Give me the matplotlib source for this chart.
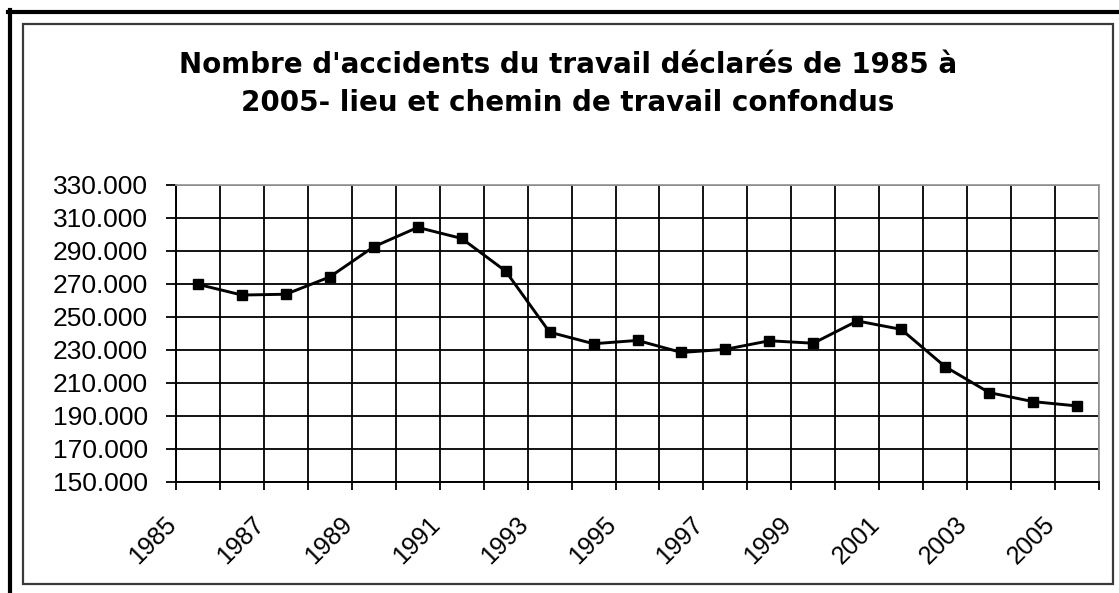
import matplotlib.pyplot as plt
from matplotlib.lines import Line2D
from matplotlib.patches import Rectangle
from matplotlib.ticker import FixedLocator, FuncFormatter
import matplotlib.transforms as mtransforms

# Données
annees = list(range(1985, 2006))
accidents = [269500, 263000, 263500, 274000, 292300, 304000, 297300, 277500,
             240500, 233500, 235500, 228200, 230100, 235300, 233800, 247300,
             242200, 219600, 203900, 198400, 195800]
etiquettes_x = [str(a) for a in annees[::2]]
graduations_y = list(range(150000, 330001, 20000))

titre = "Nombre d'accidents du travail déclarés de 1985 à\n2005- lieu et chemin de travail confondus"

W, H = 1119, 593
fig = plt.figure(figsize=(W / 100, H / 100), dpi=100)
fig.patch.set_facecolor('white')

# Cadres extérieurs
fig.add_artist(Line2D([8 / W, 1], [1 - 12 / H, 1 - 12 / H], color='black', lw=3,
                      transform=fig.transFigure))
fig.add_artist(Line2D([10 / W, 10 / W], [0, 1 - 10 / H], color='black', lw=3,
                      transform=fig.transFigure))
fig.add_artist(Rectangle((23 / W, 1 - 584 / H), (1113 - 23) / W, (584 - 24) / H,
                         fill=False, edgecolor='#3a3a3a', lw=1.6,
                         transform=fig.transFigure))

# Titre
fig.text(568 / W, 1 - 84 / H, titre, ha='center', va='center', ma='center',
         fontsize=20, fontweight='bold', family='DejaVu Sans', linespacing=1.45)

ax = fig.add_axes([176 / W, 1 - 481.5 / H, (1099 - 176) / W, (481.5 - 184.5) / H])
x = list(range(len(annees)))
ax.plot(x, accidents, color='black', lw=2.1, marker='s', markersize=7,
        markerfacecolor='black', markeredgecolor='black', zorder=3)

ax.set_xlim(-0.5, len(annees) - 0.5)
ax.set_ylim(150000, 330000)

ax.xaxis.set_major_locator(FixedLocator([i - 0.5 for i in range(len(annees) + 1)]))
ax.xaxis.set_major_formatter(FuncFormatter(lambda v, p: ''))
ax.xaxis.set_minor_locator(FixedLocator(x[::2]))
ax.set_xticklabels(etiquettes_x, minor=True)
ax.set_yticks(graduations_y)
ax.yaxis.set_major_formatter(FuncFormatter(lambda v, p: f"{v:,.0f}".replace(",", ".")))

ax.grid(True, which='major', color='black', lw=1.3)
ax.set_axisbelow(True)
ax.tick_params(axis='x', which='major', direction='out', length=6, width=1.3, color='black')
ax.tick_params(axis='x', which='minor', length=0, pad=20, labelsize=18)
ax.tick_params(axis='y', direction='out', length=7, width=1.3, color='black',
               pad=13, labelsize=19)

decalage = mtransforms.ScaledTranslation(-0.17, -0.03, fig.dpi_scale_trans)
for lab in ax.get_xticklabels(minor=True):
    lab.set_rotation(45)
    lab.set_ha('right')
    lab.set_va('top')
    lab.set_family('Liberation Sans')
    lab.set_transform(lab.get_transform() + decalage)
for lab in ax.get_yticklabels():
    lab.set_family('Liberation Sans')

for cote in ['left', 'bottom']:
    ax.spines[cote].set_color('black')
    ax.spines[cote].set_linewidth(1.4)
for cote in ['top', 'right']:
    ax.spines[cote].set_color('#9a9a9a')
    ax.spines[cote].set_linewidth(1.3)

plt.savefig('out.png', dpi=100)
